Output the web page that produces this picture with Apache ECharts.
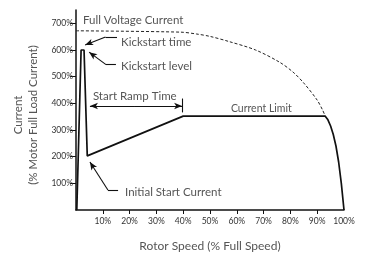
<!DOCTYPE html>
<html>
<head>
<meta charset="utf-8">
<script src="https://cdn.jsdelivr.net/npm/echarts@6/dist/echarts.min.js"></script>
<style>
  html, body { margin: 0; padding: 0; background: #fff; }
  #chart { width: 367px; height: 257px; }
</style>
</head>
<body>
<div id="chart"></div>
<script>
// rotor speed (% full speed) / current (% motor FLC) of the soft start profile
var startSpeed = [0.3, 1.9, 3.0, 4.2, 40, 93, 94, 95, 96, 97, 98, 99, 100];
var startCurrent = [0, 600, 600, 203, 352, 352, 338, 315, 283, 240, 180, 100, 0];
// full voltage (DOL) current
var dolSpeed = [0, 39, 45, 50, 57, 67, 76, 81, 85, 90, 92, 93];
var dolCurrent = [672, 667, 660, 651, 632, 600, 554, 517, 476, 412, 375, 352];
// axis ticks
var xTicks = [10, 20, 30, 40, 50, 60, 70, 80, 90];
var xLabels = [10, 20, 30, 40, 50, 60, 70, 80, 90, 100];
var yTicks = [100, 200, 300, 400, 500, 600, 700];
// annotation texts and their anchors [speed, current]
var noteText = ['Full Voltage Current', 'Kickstart time', 'Kickstart level', 'Start Ramp Time', 'Current Limit', 'Initial Start Current'];
var noteAt = [[2.6, 712], [16.8, 630], [16.8, 540], [6.3, 427], [57.8, 379], [18.3, 67]];
// leader lines: [from, to, arrow at end?]
var leaders = [
  [[15.3, 649], [11.0, 649], false], [[11.0, 649], [3.4, 619], true],
  [[14.9, 545], [11.2, 545], false], [[11.2, 545], [4.9, 592], true],
  [[15.7, 75], [11.9, 75], false], [[11.9, 75], [5.2, 180], true],
  [[22, 390], [5.2, 390], true], [[22, 390], [39.6, 390], true],
  [[39.8, 418], [39.8, 366], false]
];

var chart = echarts.init(document.getElementById('chart'));
var font = 'Lato';
var ink = '#111';
var grey = '#555';

var mainData = startSpeed.map(function (s, i) { return [s, startCurrent[i]]; });
var dolData = dolSpeed.map(function (s, i) { return [s, dolCurrent[i]]; });

var lineMarks = leaders.map(function (l) {
  return [
    { coord: l[0], symbol: 'none' },
    { coord: l[1], symbol: l[2] ? 'arrow' : 'none', symbolSize: [5, 8] }
  ];
});

var pointMarks = noteText.map(function (t, i) {
  return {
    coord: noteAt[i],
    label: {
      show: true, position: 'right', distance: 0, formatter: t,
      fontFamily: font, fontSize: i == 4 ? 10.5 : 11.5, color: grey
    }
  };
});

chart.setOption({
  animation: false,
  grid: { left: 76, right: 23, top: 10, bottom: 47 },
  xAxis: {
    type: 'value', min: 0, max: 100, interval: 10,
    name: 'Rotor Speed (% Full Speed)', nameLocation: 'middle', nameGap: 30,
    nameTextStyle: { fontFamily: font, fontSize: 12, color: grey },
    axisLine: { lineStyle: { color: ink, width: 1.5 } },
    axisTick: { customValues: xTicks, length: 4, lineStyle: { color: ink } },
    axisLabel: {
      customValues: xLabels, fontFamily: font, fontSize: 8.5, color: '#333', margin: 7,
      formatter: function (v) { return v + '%'; }
    },
    splitLine: { show: false }
  },
  yAxis: {
    type: 'value', min: 0, max: 750, interval: 100,
    name: 'Current\n(% Motor Full Load Current)', nameLocation: 'middle', nameGap: 30, nameRotate: 90,
    nameTextStyle: { fontFamily: font, fontSize: 11.5, color: grey, lineHeight: 15, padding: [0, 10, 0, 0] },
    axisLine: { lineStyle: { color: ink, width: 1.5 } },
    axisTick: { customValues: yTicks, length: 6, lineStyle: { color: ink } },
    axisLabel: {
      customValues: yTicks, fontFamily: font, fontSize: 8.5, color: '#333', margin: 3,
      formatter: function (v) { return v + '%'; }
    },
    splitLine: { show: false }
  },
  series: [
    {
      name: 'Full Voltage', type: 'line', data: dolData, symbol: 'none', smooth: 0.3,
      lineStyle: { color: '#222', width: 1, type: [3, 2] }, z: 1
    },
    {
      name: 'Soft Start', type: 'line', data: mainData, symbol: 'none',
      lineStyle: { color: ink, width: 1.7 },
      markLine: {
        silent: true, animation: false, symbol: ['none', 'arrow'],
        label: { show: false },
        lineStyle: { color: ink, width: 1.1, type: 'solid' },
        emphasis: { disabled: true },
        data: lineMarks
      },
      markPoint: {
        silent: true, symbol: 'circle', symbolSize: 0,
        data: pointMarks
      }
    }
  ]
});
</script>
</body>
</html>
